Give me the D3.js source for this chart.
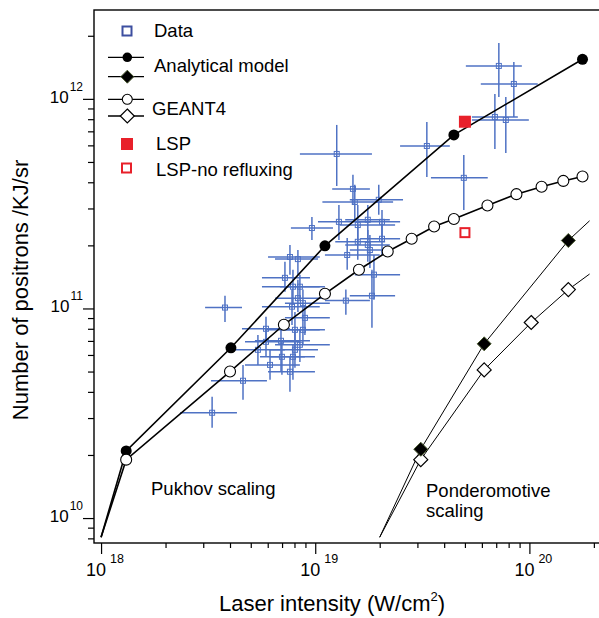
<!DOCTYPE html>
<html>
<head>
<meta charset="utf-8">
<script src="https://cdn.jsdelivr.net/npm/d3@7"></script>
<style>
  body { margin: 0; background: #fff; }
  svg { display: block; font-family: Helvetica, Arial, "Liberation Sans", sans-serif; }
</style>
</head>
<body>
<div id="chart"><svg width="599" height="618"></svg></div>
<script>
// intensity stored in units of 1e18 W/cm2, positrons in units of 1e10 /KJ/sr
const I_UNIT = 1e18;
const N_UNIT = 1e10;

// experimental data: [I, N, I low, I high, N low, N high]
const expData = [
    [3.30, 3.18, 2.34, 4.31, 2.70, 3.79],
    [4.60, 4.52, 3.26, 5.95, 3.67, 5.38],
    [3.79, 10.1, 3.06, 4.55, 8.63, 11.5],
    [5.89, 8.00, 4.55, 7.62, 6.86, 9.12],
    [5.89, 6.93, 4.70, 8.48, 5.94, 7.91],
    [6.92, 7.01, 5.23, 9.45, 4.99, 8.63],
    [6.99, 5.88, 5.52, 8.95, 4.83, 7.08],
    [7.87, 5.88, 6.15, 9.97, 4.57, 6.71],
    [8.04, 6.35, 6.15, 10.3, 5.21, 7.91],
    [8.04, 7.91, 5.83, 10.5, 6.35, 9.63],
    [8.76, 7.91, 6.84, 11.1, 6.71, 9.32],
    [8.95, 9.02, 7.22, 11.7, 7.48, 10.4],
    [7.79, 10.2, 5.64, 10.5, 8.35, 12.3],
    [8.30, 11.2, 6.49, 11.1, 9.63, 13.7],
    [8.76, 10.6, 7.22, 11.7, 9.02, 12.3],
    [7.87, 12.7, 5.64, 10.5, 10.4, 15.3],
    [8.48, 12.7, 6.84, 11.1, 11.0, 14.5],
    [7.22, 14.0, 5.64, 9.45, 12.0, 16.7],
    [7.62, 17.6, 6.02, 10.5, 14.5, 20.1],
    [8.30, 17.2, 6.49, 10.3, 14.5, 19.0],
    [9.65, 24.2, 7.70, 12.1, 21.2, 27.3],
    [12.9, 25.9, 10.3, 18.0, 21.2, 31.2],
    [14.1, 18.0, 11.1, 20.0, 15.3, 21.7],
    [15.8, 20.8, 12.4, 21.2, 17.1, 25.0],
    [17.6, 20.1, 13.8, 22.3, 16.7, 23.7],
    [15.8, 25.0, 13.0, 23.6, 20.1, 31.2],
    [17.6, 26.5, 13.8, 22.3, 21.2, 31.2],
    [20.5, 25.9, 16.2, 24.9, 21.2, 29.5],
    [20.5, 21.5, 16.2, 24.9, 18.0, 25.0],
    [18.0, 19.0, 14.5, 22.8, 15.6, 22.4],
    [18.8, 14.5, 15.3, 24.9, 11.0, 18.0],
    [18.4, 11.5, 14.5, 23.6, 8.08, 15.3],
    [13.9, 10.9, 11.1, 18.0, 9.32, 12.3],
    [15.3, 32.2, 10.8, 23.1, 26.5, 38.9],
    [15.0, 37.2, 12.0, 18.0, 31.2, 43.4],
    [19.8, 33.0, 14.5, 25.7, 28.0, 38.9],
    [12.6, 54.6, 8.48, 18.4, 38.4, 75.1],
    [33.2, 59.6, 24.9, 42.5, 42.4, 77.6],
    [49.4, 42.0, 34.7, 63.9, 29.5, 54.0],
    [69.0, 82.0, 53.9, 88.3, 57.7, 105.5],
    [77.6, 79.3, 53.9, 99.4, 55.2, 102.1],
    [72.0, 143.6, 50.5, 92.2, 102.1, 184.7],
    [84.6, 117.8, 59.3, 109.4, 82.0, 150.0],
    [5.40, 6.35, 4.22, 7.22, 5.38, 7.48],
    [6.15, 5.38, 4.70, 8.48, 4.57, 6.35],
    [7.62, 4.99, 6.02, 9.97, 4.00, 5.94],
    [8.48, 6.71, 6.49, 11.7, 5.56, 7.91]
];

// Pukhov scaling
const pukhovStart = [1.0, 0.81];
const pukhovModelI = [1.31, 4.04, 11.1, 44.4, 177];
const pukhovModelN = [2.09, 6.49, 19.9, 67.3, 154.5];
const pukhovGeantI = [1.31, 4.0, 7.14, 11.1, 16.0, 21.8, 28.2, 35.9, 44.4, 63.7, 87.0, 114, 144, 177];
const pukhovGeantN = [1.90, 5.00, 8.36, 11.75, 15.3, 18.7, 21.5, 24.6, 26.7, 31.0, 35.1, 38.1, 40.6, 42.6];

// Ponderomotive scaling
const pondStart = [20.0, 0.81];
const pondModelI = [31.1, 61.5, 152];
const pondModelN = [2.13, 6.78, 21.1];
const pondModelEnd = [191, 26.2];
const pondGeantI = [31.1, 61.5, 102, 152];
const pondGeantN = [1.90, 5.09, 8.57, 12.3];
const pondGeantEnd = [191, 14.6];

// LSP simulations
const lspI = [50];
const lspN = [77.8];
const lspNoReflux = [23.0];

const xMajorTicks = [1e18, 1e19, 1e20];
const xExponents = ["18", "19", "20"];
const yMajorTicks = [1e10, 1e11, 1e12];
const yExponents = ["10", "11", "12"];

/**********************
***** BASIC SETUP *****
**********************/

const width = 599;
const height = 618;
const margin = {top: 10, left: 94, right: 0, bottom: 75};
const plotWidth = width - margin.left - margin.right;
const plotHeight = height - margin.top - margin.bottom;

const svg = d3.select("#chart").select("svg");

const BLUE = "#4f72c4";
const RED = "#e8202a";

/***********************
***** X & Y SCALES *****
***********************/

const xScale = d3.scaleLog()
    .domain([Math.pow(10, 17.967), Math.pow(10, 20.325)])
    .range([margin.left, margin.left + plotWidth]);

const yScale = d3.scaleLog()
    .domain([Math.pow(10, 9.881), Math.pow(10, 12.424)])
    .range([margin.top + plotHeight, margin.top]);

const px = d => xScale(d[0] * I_UNIT);
const py = d => yScale(d[1] * N_UNIT);

function minorTicks(scale) {
    const [lo, hi] = scale.domain();
    let out = [];
    for (let e = Math.floor(Math.log10(lo)); e <= Math.ceil(Math.log10(hi)); e++) {
        for (let m = 2; m <= 9; m++) {
            let v = m * Math.pow(10, e);
            if (v >= lo && v <= hi) out.push(v);
        }
    }
    return out;
}

/*******************
***** AXES *********
*******************/

svg.append("g")
    .attr("class", "xAxis")
    .attr("transform", `translate(0, ${margin.top + plotHeight})`)
    .call(d3.axisBottom(xScale).tickValues(minorTicks(xScale)).tickSize(5).tickSizeOuter(0).tickFormat(""))
    .call(g => g.select(".domain").remove());

svg.append("g")
    .attr("class", "xAxis")
    .attr("transform", `translate(0, ${margin.top + plotHeight})`)
    .call(d3.axisBottom(xScale).tickValues(xMajorTicks).tickSize(11).tickSizeOuter(0).tickFormat(""))
    .call(g => g.select(".domain").remove());

svg.append("g")
    .attr("class", "yAxis")
    .attr("transform", `translate(${margin.left}, 0)`)
    .call(d3.axisLeft(yScale).tickValues(minorTicks(yScale)).tickSize(6).tickSizeOuter(0).tickFormat(""))
    .call(g => g.select(".domain").remove());

svg.append("g")
    .attr("class", "yAxis")
    .attr("transform", `translate(${margin.left}, 0)`)
    .call(d3.axisLeft(yScale).tickValues(yMajorTicks).tickSize(11).tickSizeOuter(0).tickFormat(""))
    .call(g => g.select(".domain").remove());

svg.selectAll(".tick line").attr("stroke", "#000").attr("stroke-width", 1.2);

// frame
svg.append("rect")
    .attr("x", margin.left)
    .attr("y", margin.top)
    .attr("width", plotWidth + 1)
    .attr("height", plotHeight)
    .attr("fill", "none")
    .attr("stroke", "#000")
    .attr("stroke-width", 1.4);

// tick labels
const xLab = svg.selectAll(".xTickLabel")
    .data(xMajorTicks)
    .enter()
    .append("text")
    .attr("class", "xTickLabel")
    .attr("x", d => xScale(d) - 15)
    .attr("y", margin.top + plotHeight + 33)
    .style("font-size", "18px");
xLab.append("tspan").text("10");
xLab.append("tspan")
    .attr("dx", 4)
    .attr("dy", -13)
    .style("font-size", "12.5px")
    .text((d, i) => xExponents[i]);

const yLab = svg.selectAll(".yTickLabel")
    .data(yMajorTicks)
    .enter()
    .append("text")
    .attr("class", "yTickLabel")
    .attr("x", margin.left - 11)
    .attr("y", d => yScale(d) + 4)
    .attr("text-anchor", "end")
    .style("font-size", "17px");
yLab.append("tspan").text("10");
yLab.append("tspan")
    .attr("dx", 1)
    .attr("dy", -12)
    .style("font-size", "12px")
    .text((d, i) => yExponents[i]);

// axis titles
const xTitle = svg.append("text")
    .attr("x", 332)
    .attr("y", 611)
    .attr("text-anchor", "middle")
    .style("font-size", "22px");
xTitle.append("tspan").text("Laser intensity (W/cm");
xTitle.append("tspan").attr("dy", -10).style("font-size", "13px").text("2");
xTitle.append("tspan").attr("dy", 10).text(")");

svg.append("text")
    .attr("transform", "rotate(-90)")
    .attr("x", -290)
    .attr("y", 28)
    .attr("text-anchor", "middle")
    .style("font-size", "22px")
    .text("Number of positrons /KJ/sr");

/*************************
***** DATA ERROR BARS *****
*************************/

const dataG = svg.append("g").attr("class", "data");

dataG.selectAll(".xErr")
    .data(expData)
    .enter()
    .append("line")
    .attr("x1", d => xScale(d[2] * I_UNIT))
    .attr("x2", d => xScale(d[3] * I_UNIT))
    .attr("y1", py)
    .attr("y2", py)
    .attr("stroke", BLUE)
    .attr("stroke-width", 1.5);

dataG.selectAll(".yErr")
    .data(expData)
    .enter()
    .append("line")
    .attr("x1", px)
    .attr("x2", px)
    .attr("y1", d => yScale(d[4] * N_UNIT))
    .attr("y2", d => yScale(d[5] * N_UNIT))
    .attr("stroke", BLUE)
    .attr("stroke-width", 1.5);

dataG.selectAll(".dataPt")
    .data(expData)
    .enter()
    .append("rect")
    .attr("x", d => px(d) - 2.5)
    .attr("y", d => py(d) - 2.5)
    .attr("width", 5)
    .attr("height", 5)
    .attr("fill", "none")
    .attr("stroke", BLUE)
    .attr("stroke-width", 1);

/********************************
***** LINES & MARKERS *****
*********************************/

const zip = (a, b) => a.map((v, i) => [v, b[i]]);

const line = d3.line().x(px).y(py);

const pukhovModel = zip(pukhovModelI, pukhovModelN);
const pukhovGeant = zip(pukhovGeantI, pukhovGeantN);
const pondModel = zip(pondModelI, pondModelN);
const pondGeant = zip(pondGeantI, pondGeantN);

svg.append("path")
    .attr("d", line([pukhovStart].concat(pukhovModel)))
    .attr("fill", "none").attr("stroke", "#000").attr("stroke-width", 1.6);
svg.append("path")
    .attr("d", line([pukhovStart].concat(pukhovGeant)))
    .attr("fill", "none").attr("stroke", "#000").attr("stroke-width", 1.6);
svg.append("path")
    .attr("d", line([pondStart].concat(pondModel, [pondModelEnd])))
    .attr("fill", "none").attr("stroke", "#000").attr("stroke-width", 1);
svg.append("path")
    .attr("d", line([pondStart].concat(pondGeant, [pondGeantEnd])))
    .attr("fill", "none").attr("stroke", "#000").attr("stroke-width", 1);

const diamond = r => `M0,${-r}L${r},0L0,${r}L${-r},0Z`;

svg.selectAll(".pukhovModel")
    .data(pukhovModel)
    .enter()
    .append("circle")
    .attr("cx", px).attr("cy", py).attr("r", 5.5)
    .attr("fill", "#000");

svg.selectAll(".pukhovGeant")
    .data(pukhovGeant)
    .enter()
    .append("circle")
    .attr("cx", px).attr("cy", py).attr("r", 5.5)
    .attr("fill", "#fff").attr("stroke", "#000").attr("stroke-width", 1.1);

svg.selectAll(".pondGeant")
    .data(pondGeant)
    .enter()
    .append("path")
    .attr("d", diamond(7))
    .attr("transform", d => `translate(${px(d)}, ${py(d)})`)
    .attr("fill", "#fff").attr("stroke", "#000").attr("stroke-width", 1.2);

svg.selectAll(".pondModel")
    .data(pondModel)
    .enter()
    .append("path")
    .attr("d", diamond(7))
    .attr("transform", d => `translate(${px(d)}, ${py(d)})`)
    .attr("fill", "#000").attr("stroke", "#4a5a30").attr("stroke-width", 1);

// LSP
svg.selectAll(".lsp")
    .data(zip(lspI, lspN))
    .enter()
    .append("rect")
    .attr("x", d => px(d) - 6).attr("y", d => py(d) - 6)
    .attr("width", 12).attr("height", 12)
    .attr("fill", RED);

svg.selectAll(".lspNo")
    .data(zip(lspI, lspNoReflux))
    .enter()
    .append("rect")
    .attr("x", d => px(d) - 4.5).attr("y", d => py(d) - 4.5)
    .attr("width", 9).attr("height", 9)
    .attr("fill", "#fff").attr("stroke", RED).attr("stroke-width", 2);

/*******************
***** ANNOTATION ****
*******************/

svg.append("text").attr("x", 151).attr("y", 495).style("font-size", "18.5px").text("Pukhov scaling");
svg.append("text").attr("x", 426).attr("y", 497).style("font-size", "18.5px").text("Ponderomotive");
svg.append("text").attr("x", 426).attr("y", 517).style("font-size", "18.5px").text("scaling");

/****************
***** LEGEND ****
*****************/

const legend = svg.append("g").attr("class", "legend").style("font-size", "18.5px");

legend.append("rect")
    .attr("x", 122.5).attr("y", 26.5).attr("width", 9).attr("height", 9)
    .attr("fill", "none").attr("stroke", "#3d4fa0").attr("stroke-width", 2);
legend.append("text").attr("x", 154).attr("y", 37).text("Data");

[57.3, 76.7, 99.3, 116].forEach(y => {
    legend.append("line")
        .attr("x1", 108).attr("x2", 144).attr("y1", y).attr("y2", y)
        .attr("stroke", "#000").attr("stroke-width", 1.3);
});
legend.append("circle").attr("cx", 127.3).attr("cy", 57.3).attr("r", 4.8).attr("fill", "#000");
legend.append("path").attr("d", diamond(6.5)).attr("transform", "translate(127.3, 76.7)")
    .attr("fill", "#000").attr("stroke", "#4a5a30").attr("stroke-width", 1);
legend.append("text").attr("x", 154).attr("y", 72).text("Analytical model");

legend.append("circle").attr("cx", 127.3).attr("cy", 99.3).attr("r", 5)
    .attr("fill", "#fff").attr("stroke", "#000").attr("stroke-width", 1.1);
legend.append("path").attr("d", diamond(7)).attr("transform", "translate(127.3, 116)")
    .attr("fill", "#fff").attr("stroke", "#000").attr("stroke-width", 1.2);
legend.append("text").attr("x", 152).attr("y", 115).text("GEANT4");

legend.append("rect").attr("x", 121).attr("y", 138).attr("width", 12).attr("height", 12).attr("fill", RED);
legend.append("text").attr("x", 156).attr("y", 150).text("LSP");

legend.append("rect").attr("x", 122).attr("y", 163.5).attr("width", 9).attr("height", 9)
    .attr("fill", "#fff").attr("stroke", RED).attr("stroke-width", 2);
legend.append("text").attr("x", 156).attr("y", 176).text("LSP-no refluxing");
</script>
</body>
</html>
